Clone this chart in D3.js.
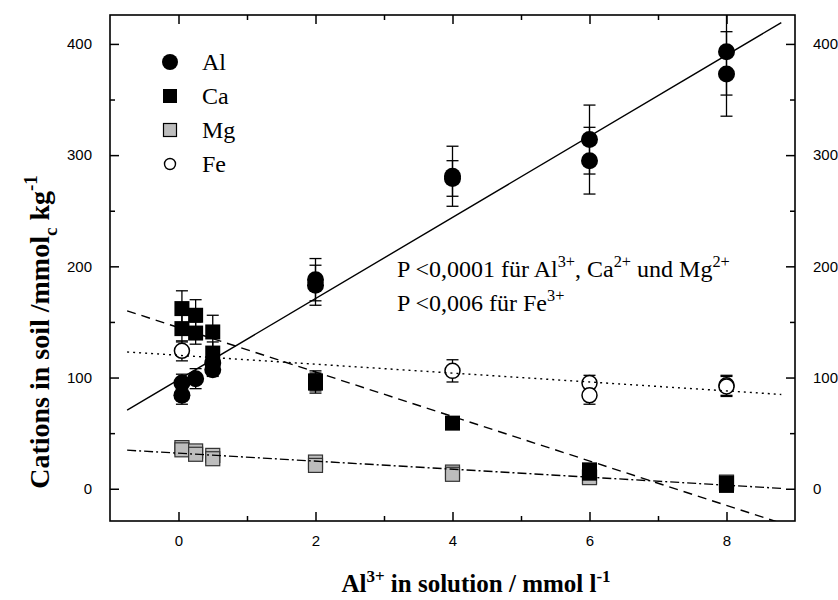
<!DOCTYPE html>
<html><head><meta charset="utf-8">
<script src="https://cdn.jsdelivr.net/npm/d3@7"></script>
<style>body{margin:0;background:#fff}</style>
</head><body>
<svg id="chart" width="838" height="600"></svg>
<script>
// ---- data ----
const alX   = [0.05, 0.05, 0.25, 0.5, 0.5, 2, 2, 4, 4, 6, 6, 8, 8];
const alY   = [84, 95, 99, 113, 107, 188, 183, 281, 279, 314, 295, 393, 373];
const alErr = [8, 8, 9, 8, 6, 19, 18, 27, 16, 31, 30, 39, 38];

const caX   = [0.05, 0.05, 0.25, 0.25, 0.5, 0.5, 2, 2, 4, 6, 6, 8, 8];
const caY   = [162, 144, 156, 140, 141, 122, 97, 95, 59, 17, 14, 5, 3];
const caErr = [16, 12, 14, 10, 15, 10, 9, 9, 5, 4, 4, 3, 3];

const mgX   = [0.05, 0.05, 0.25, 0.25, 0.5, 0.5, 2, 2, 4, 4, 6, 6, 8, 8];
const mgY   = [37, 35, 34, 31, 30, 27, 24, 21, 15, 13, 11, 10, 6, 5];
const mgErr = [3, 3, 3, 3, 3, 3, 3, 3, 2, 2, 2, 2, 2, 2];

const feX   = [0.05, 4, 6, 6, 8, 8];
const feY   = [124, 106, 95, 84, 93, 92];
const feErr = [9, 10, 7, 8, 9, 9];

// linear fits: intercept, slope
const fitNames     = ["Al", "Ca", "Fe", "Mg"];
const fitIntercept = [98, 145, 120, 32];
const fitSlope     = [36.5, -20, -4.0, -3.6];
const fitRange     = [-0.75, 8.8];

const xTicks = [0, 2, 4, 6, 8];
const xMinor = [1, 3, 5, 7];
const yTicks = [0, 100, 200, 300, 400];
const yMinor = [50, 150, 250, 350];
const legendNames = ["Al", "Ca", "Mg", "Fe"];

// ---- layout ----
const svg = d3.select("#chart");
const L = 110, R = 795, T = 15, B = 521;
const x = d3.scaleLinear().domain([-1, 9]).range([L, R]);
const y = d3.scaleLinear().domain([-29, 426]).range([B, T]);
const serif = "'Liberation Serif','Times New Roman',serif";
const sans = "'Liberation Sans',Arial,sans-serif";

svg.append("defs").append("clipPath").attr("id","clip")
  .append("rect").attr("x",L).attr("y",T).attr("width",R-L).attr("height",B-T);

// axes (ticks inward, all four sides)
const major = 9, minor = 5;
const ax = svg.append("g");
ax.append("g").attr("transform",`translate(0,${B})`)
  .call(d3.axisBottom(x).tickValues(xTicks).tickSizeInner(-major).tickSizeOuter(0).tickPadding(14).tickFormat(d3.format("d")));
ax.append("g").attr("transform",`translate(0,${B})`)
  .call(d3.axisBottom(x).tickValues(xMinor).tickSizeInner(-minor).tickSizeOuter(0).tickFormat(""));
ax.append("g").attr("transform",`translate(0,${T})`)
  .call(d3.axisTop(x).tickValues(xTicks).tickSizeInner(-major).tickSizeOuter(0).tickFormat(""));
ax.append("g").attr("transform",`translate(0,${T})`)
  .call(d3.axisTop(x).tickValues(xMinor).tickSizeInner(-minor).tickSizeOuter(0).tickFormat(""));
ax.append("g").attr("transform",`translate(${L},0)`)
  .call(d3.axisLeft(y).tickValues(yTicks).tickSizeInner(-major).tickSizeOuter(0).tickPadding(18).tickFormat(d3.format("d")));
ax.append("g").attr("transform",`translate(${L},0)`)
  .call(d3.axisLeft(y).tickValues(yMinor).tickSizeInner(-minor).tickSizeOuter(0).tickFormat(""));
ax.append("g").attr("transform",`translate(${R},0)`)
  .call(d3.axisRight(y).tickValues(yTicks).tickSizeInner(-major).tickSizeOuter(0).tickPadding(18).tickFormat(d3.format("d")));
ax.append("g").attr("transform",`translate(${R},0)`)
  .call(d3.axisRight(y).tickValues(yMinor).tickSizeInner(-minor).tickSizeOuter(0).tickFormat(""));
ax.selectAll(".domain").remove();
ax.selectAll("line").attr("stroke","#000").attr("stroke-width",1.5);
ax.selectAll("text").attr("font-family",sans).attr("font-size",15).attr("fill","#000");

svg.append("rect").attr("x",L).attr("y",T).attr("width",R-L).attr("height",B-T)
  .attr("fill","none").attr("stroke","#000").attr("stroke-width",1.6);

const plot = svg.append("g").attr("clip-path","url(#clip)");

// error bars
function errBars(xs, ys, es, color) {
  const g = plot.append("g").attr("stroke",color).attr("stroke-width",1.3);
  xs.forEach((xv,i)=>{
    const cx = x(xv), y1 = y(ys[i]+es[i]), y2 = y(ys[i]-es[i]);
    g.append("line").attr("x1",cx).attr("x2",cx).attr("y1",y1).attr("y2",y2);
    g.append("line").attr("x1",cx-6).attr("x2",cx+6).attr("y1",y1).attr("y2",y1);
    g.append("line").attr("x1",cx-6).attr("x2",cx+6).attr("y1",y2).attr("y2",y2);
  });
}
errBars(mgX, mgY, mgErr, "#444");
errBars(caX, caY, caErr, "#000");
errBars(feX, feY, feErr, "#000");
errBars(alX, alY, alErr, "#000");

// markers
const mg = plot.append("g");
mgX.forEach((xv,i)=>{
  mg.append("rect").attr("x",x(xv)-7).attr("y",y(mgY[i])-7).attr("width",14).attr("height",14)
    .attr("fill","#bdbdbd").attr("stroke","#333").attr("stroke-width",1.2);
});
const ca = plot.append("g");
caX.forEach((xv,i)=>{
  ca.append("rect").attr("x",x(xv)-7.5).attr("y",y(caY[i])-7.5).attr("width",15).attr("height",15)
    .attr("fill","#000");
});
const fe = plot.append("g");
feX.forEach((xv,i)=>{
  fe.append("circle").attr("cx",x(xv)).attr("cy",y(feY[i])).attr("r",7.5)
    .attr("fill","#fff").attr("stroke","#000").attr("stroke-width",1.5);
});
const al = plot.append("g");
alX.forEach((xv,i)=>{
  al.append("circle").attr("cx",x(xv)).attr("cy",y(alY[i])).attr("r",8.5).attr("fill","#000");
});

// regression lines
const dashes = {Al:null, Ca:"9,6", Fe:"2,4", Mg:"9,3,2,3"};
fitNames.forEach((n,i)=>{
  const pts = fitRange.map(xv=>[x(xv), y(fitIntercept[i]+fitSlope[i]*xv)]);
  plot.append("path").attr("d", d3.line()(pts)).attr("fill","none")
    .attr("stroke","#000").attr("stroke-width",1.4)
    .attr("stroke-dasharray", dashes[n]);
});

// legend
const lg = svg.append("g");
legendNames.forEach((n,i)=>{
  const cy = 62 + i*34, sx = 170;
  if (n==="Al") lg.append("circle").attr("cx",sx).attr("cy",cy).attr("r",8).attr("fill","#000");
  if (n==="Ca") lg.append("rect").attr("x",sx-7).attr("y",cy-7).attr("width",14).attr("height",14).attr("fill","#000");
  if (n==="Mg") lg.append("rect").attr("x",sx-6.5).attr("y",cy-6.5).attr("width",13).attr("height",13).attr("fill","#bdbdbd").attr("stroke","#000").attr("stroke-width",1.2);
  if (n==="Fe") lg.append("circle").attr("cx",sx).attr("cy",cy).attr("r",5.5).attr("fill","#fff").attr("stroke","#000").attr("stroke-width",1.4);
  lg.append("text").attr("x",202).attr("y",cy+8).attr("font-family",serif).attr("font-size",24).text(n);
});

// text helper with super/subscripts (baseline-shift, so no reset spans)
function rich(t, parts, size) {
  parts.forEach(p=>{
    const s = t.append("tspan").text(p[0]);
    if (p[1]==="sup") s.attr("baseline-shift", size*0.42).attr("font-size",size*0.68);
    else if (p[1]==="sub") s.attr("baseline-shift", -size*0.28).attr("font-size",size*0.68);
  });
}

// annotation
const a1 = svg.append("text").attr("x",397).attr("y",277).attr("font-family",serif).attr("font-size",24);
rich(a1, [["P <0,0001 für Al"],["3+","sup"],[", Ca"],["2+","sup"],[" und Mg"],["2+","sup"]], 24);
const a2 = svg.append("text").attr("x",397).attr("y",311).attr("font-family",serif).attr("font-size",24);
rich(a2, [["P <0,006 für Fe"],["3+","sup"]], 24);

// axis titles
const xt = svg.append("text").attr("x",476).attr("y",592).attr("text-anchor","middle")
  .attr("font-family",serif).attr("font-weight","bold").attr("font-size",25);
rich(xt, [["Al"],["3+","sup"],[" in solution / mmol l"],["-1","sup"]], 25);
const yt = svg.append("text").attr("transform","translate(49,332) rotate(-90)").attr("text-anchor","middle")
  .attr("font-family",serif).attr("font-weight","bold").attr("font-size",28);
rich(yt, [["Cations in soil /mmol"],["c","sub"],[" kg"],["-1","sup"]], 28);
</script>
</body></html>
